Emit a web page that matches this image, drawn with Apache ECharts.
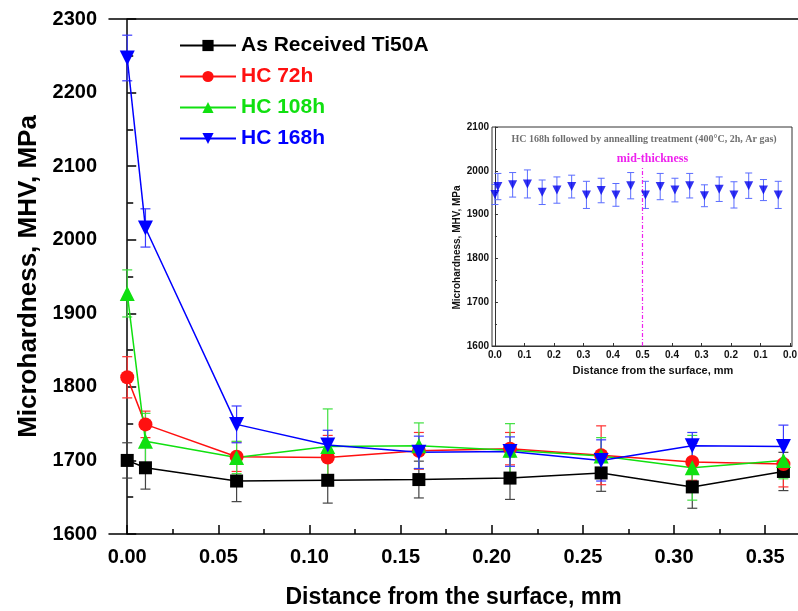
<!DOCTYPE html>
<html>
<head>
<meta charset="utf-8">
<script src="https://cdn.jsdelivr.net/npm/echarts@6/dist/echarts.min.js"></script>
<style>html,body{margin:0;padding:0;background:#fff}#c{width:798px;height:611px}</style>
</head>
<body>
<div id="c"></div>
<script>
// ---- main chart data ----
const mainX = [0, 0.01, 0.06, 0.11, 0.16, 0.21, 0.26, 0.31, 0.36];
const asReceived = [1700, 1690, 1672, 1673, 1674, 1676, 1683, 1664, 1685];
const asReceivedErr = [24, 29, 28, 31, 25, 29, 25, 29, 26];
const hc72 = [1813, 1749, 1705, 1704, 1713, 1716, 1707, 1698, 1695];
const hc72Err = [28, 18, 20, 30, 25, 22, 40, 25, 31];
const hc108 = [1927, 1726, 1704, 1719, 1720, 1714, 1706, 1690, 1700];
const hc108Err = [32, 38, 22, 51, 31, 36, 25, 44, 25];
const hc168 = [2247, 2016, 1749, 1721, 1711, 1712, 1700, 1720, 1719];
const hc168Err = [31, 26, 25, 20, 22, 20, 28, 18, 29];
const seriesNames = ['As Received Ti50A', 'HC 72h', 'HC 108h', 'HC 168h'];
const mainXTicks = [0, 0.05, 0.10, 0.15, 0.20, 0.25, 0.30, 0.35];
const mainXMinorTicks = [0.025, 0.075, 0.125, 0.175, 0.225, 0.275, 0.325];

// ---- inset data ----
const insetX = [0, 0.01, 0.06, 0.11, 0.16, 0.21, 0.26, 0.31, 0.36, 0.41, 0.46, 0.51, 0.56, 0.61, 0.66, 0.71, 0.76, 0.81, 0.86, 0.91, 0.96];
const insetY = [1946, 1964, 1968, 1970, 1951, 1956, 1964, 1945, 1955, 1945, 1966, 1945, 1964, 1956, 1966, 1943, 1958, 1945, 1966, 1956, 1945];
const insetErr = [23, 30, 28, 32, 28, 30, 26, 31, 28, 26, 30, 31, 30, 27, 28, 25, 28, 30, 29, 24, 31];
const insetXTicks = [0, 0.1, 0.2, 0.3, 0.4, 0.5, 0.6, 0.7, 0.8, 0.9, 1.0];
const midThickness = 0.5;
const insetTitle = 'HC 168h followed by annealling treatment (400°C, 2h, Ar gas)';

const colors = ['#000000', '#ff1010', '#10e010', '#0000ff'];
const errColors = ['#444444', '#ff3030', '#40e040', '#3a3aff'];
const symbols = ['rect', 'circle', 'triangle', 'triangle'];
const symbolSizes = [13, 14, 15, 15];
const symbolRot = [0, 0, 0, 180];
const vals = [asReceived, hc72, hc108, hc168];
const errs = [asReceivedErr, hc72Err, hc108Err, hc168Err];

const font = "'Liberation Sans', Arial, sans-serif";
const serif = "'Liberation Serif', 'Times New Roman', serif";
const magenta = '#ee22ee';

function errRender(color, cap, lw) {
  return function (params, api) {
    const x = api.value(0), lo = api.value(1), hi = api.value(2);
    const a = api.coord([x, lo]), b = api.coord([x, hi]);
    const st = { stroke: color, lineWidth: lw };
    return {
      type: 'group',
      children: [
        { type: 'line', shape: { x1: a[0], y1: a[1], x2: b[0], y2: b[1] }, style: st },
        { type: 'line', shape: { x1: a[0] - cap, y1: a[1], x2: a[0] + cap, y2: a[1] }, style: st },
        { type: 'line', shape: { x1: b[0] - cap, y1: b[1], x2: b[0] + cap, y2: b[1] }, style: st }
      ]
    };
  };
}

const series = [];
vals.forEach((v, k) => {
  series.push({
    name: 'err' + k, type: 'custom', xAxisIndex: 0, yAxisIndex: 0, z: 1,
    renderItem: errRender(errColors[k], 5, 1.2),
    encode: { x: 0, y: [1, 2] },
    data: mainX.map((x, i) => [x, v[i] - errs[k][i], v[i] + errs[k][i]]),
    silent: true
  });
});
vals.forEach((v, k) => {
  series.push({
    name: seriesNames[k], type: 'line', xAxisIndex: 0, yAxisIndex: 0, z: 3,
    data: mainX.map((x, i) => [x, v[i]]),
    symbol: symbols[k], symbolSize: symbolSizes[k], symbolRotate: symbolRot[k],
    lineStyle: { color: colors[k], width: 1.5 },
    itemStyle: { color: colors[k] },
    animation: false
  });
});
series.push({
  name: 'insetErr', type: 'custom', xAxisIndex: 3, yAxisIndex: 1, z: 1,
  renderItem: errRender('#5a6cff', 3.5, 1),
  encode: { x: 0, y: [1, 2] },
  data: insetX.map((x, i) => [x, insetY[i] - insetErr[i], insetY[i] + insetErr[i]]),
  silent: true
});
// mid-thickness dash-dot line, drawn through the inset's scales
series.push({
  name: 'mid-thickness', type: 'custom', xAxisIndex: 3, yAxisIndex: 1, z: 2, silent: true,
  encode: { x: 0, y: [1, 2] },
  data: [[midThickness, 1600, 2010]],
  renderItem: function (params, api) {
    const a = api.coord([api.value(0), api.value(1)]);
    const b = api.coord([api.value(0), api.value(2)]);
    return {
      type: 'group',
      children: [
        { type: 'line', shape: { x1: a[0], y1: a[1], x2: b[0], y2: b[1] },
          style: { stroke: magenta, lineWidth: 1.2, lineDash: [4, 2, 1, 2] } },
        { type: 'text', x: b[0] + 10, y: b[1] - 2,
          style: { text: 'mid-thickness', fill: magenta, font: 'bold 12px ' + serif, textAlign: 'center', textVerticalAlign: 'bottom' } }
      ]
    };
  }
});
series.push({
  name: 'HC 168h annealed', type: 'scatter', xAxisIndex: 3, yAxisIndex: 1, z: 3,
  data: insetX.map((x, i) => [x, insetY[i]]),
  symbol: 'triangle', symbolRotate: 180, symbolSize: 9,
  itemStyle: { color: '#0000ee' }
});

const option = {
  animation: false,
  backgroundColor: '#ffffff',
  grid: [
    { left: 109, top: 19, width: 689, bottom: 77, outerBoundsMode: 'none', containLabel: false },
    { left: 492, top: 127, width: 300, height: 219, outerBoundsMode: 'none', containLabel: false, show: true, borderColor: '#333', borderWidth: 1, backgroundColor: '#fff' }
  ],
  legend: {
    data: seriesNames.map((n, k) => ({ name: n, textStyle: { color: colors[k] } })),
    orient: 'vertical', left: 174, top: 30,
    itemWidth: 56, itemHeight: 14, itemGap: 10,
    textStyle: { fontFamily: font, fontWeight: 'bold', fontSize: 21 },
    selectedMode: false
  },
  xAxis: [
    {
      gridIndex: 0, type: 'value', min: -0.01, max: 0.368, position: 'bottom',
      name: 'Distance from the surface, mm', nameLocation: 'middle', nameGap: 52,
      nameTextStyle: { fontFamily: font, fontWeight: 'bold', fontSize: 23, color: '#000' },
      axisLine: { lineStyle: { color: '#000', width: 1.5 } },
      axisTick: { inside: true, length: 9, customValues: mainXTicks, lineStyle: { color: '#000', width: 1.5 } },
      axisLabel: { customValues: mainXTicks, margin: 13, formatter: v => v.toFixed(2), fontFamily: font, fontWeight: 'bold', fontSize: 20, color: '#000' },
      splitLine: { show: false }
    },
    {
      gridIndex: 0, type: 'value', min: -0.01, max: 0.368, position: 'bottom',
      axisLine: { show: false },
      axisTick: { inside: true, length: 5, customValues: mainXMinorTicks, lineStyle: { color: '#000', width: 1.5 } },
      axisLabel: { show: false },
      splitLine: { show: false }
    },
    {
      gridIndex: 0, type: 'value', min: -0.01, max: 0.368, position: 'top',
      axisLine: { lineStyle: { color: '#000', width: 1.5 } },
      axisTick: { show: false }, axisLabel: { show: false }, splitLine: { show: false }
    },
    {
      gridIndex: 1, type: 'value', min: -0.01, max: 1.0067, position: 'bottom',
      name: 'Distance from the surface, mm', nameLocation: 'middle', nameGap: 19,
      nameTextStyle: { fontFamily: font, fontWeight: 'bold', fontSize: 11, color: '#111', padding: [0, 0, 0, 22] },
      axisLine: { lineStyle: { color: '#333', width: 1 } },
      axisTick: { inside: true, length: 3, customValues: insetXTicks, lineStyle: { color: '#333' } },
      axisLabel: {
        customValues: insetXTicks, margin: 4,
        formatter: v => (v <= 0.5 ? v : 1 - v).toFixed(1),
        fontFamily: font, fontWeight: 'bold', fontSize: 10, color: '#111'
      },
      splitLine: { show: false }
    }
  ],
  yAxis: [
    {
      gridIndex: 0, type: 'value', min: 1600, max: 2300, interval: 100,
      name: 'Microhardness, MHV, MPa', nameLocation: 'middle', nameGap: 60,
      nameTextStyle: { fontFamily: font, fontWeight: 'bold', fontSize: 26, color: '#000' },
      axisLine: { lineStyle: { color: '#000', width: 1.5 } },
      axisTick: { inside: true, length: 9, lineStyle: { color: '#000', width: 1.5 } },
      minorTick: { show: true, splitNumber: 2, length: 6, lineStyle: { color: '#000', width: 1.5 } },
      axisLabel: { margin: 12, formatter: v => String(v), fontFamily: font, fontWeight: 'bold', fontSize: 20, color: '#000' },
      splitLine: { show: false }
    },
    {
      gridIndex: 1, type: 'value', min: 1600, max: 2100, interval: 100,
      name: 'Microhardness, MHV, MPa', nameLocation: 'middle', nameGap: 30,
      nameTextStyle: { fontFamily: font, fontWeight: 'bold', fontSize: 10, color: '#111', padding: [0, 22, 0, 0] },
      axisLine: { lineStyle: { color: '#333', width: 1 } },
      axisTick: { inside: true, length: 3, lineStyle: { color: '#333' } },
      minorTick: { show: true, splitNumber: 2, length: 2, lineStyle: { color: '#333' } },
      axisLabel: { margin: 3, formatter: v => String(v), fontFamily: font, fontWeight: 'bold', fontSize: 10, color: '#111' },
      splitLine: { show: false }
    }
  ],
  graphic: [
    {
      type: 'text', x: 644, y: 134, z: 10,
      style: { text: insetTitle, fill: '#707070', font: 'bold 10px ' + serif, textAlign: 'center' }
    }
  ],
  series: series
};

const chart = echarts.init(document.getElementById('c'), null, { renderer: 'canvas' });
chart.setOption(option);
</script>
</body>
</html>
